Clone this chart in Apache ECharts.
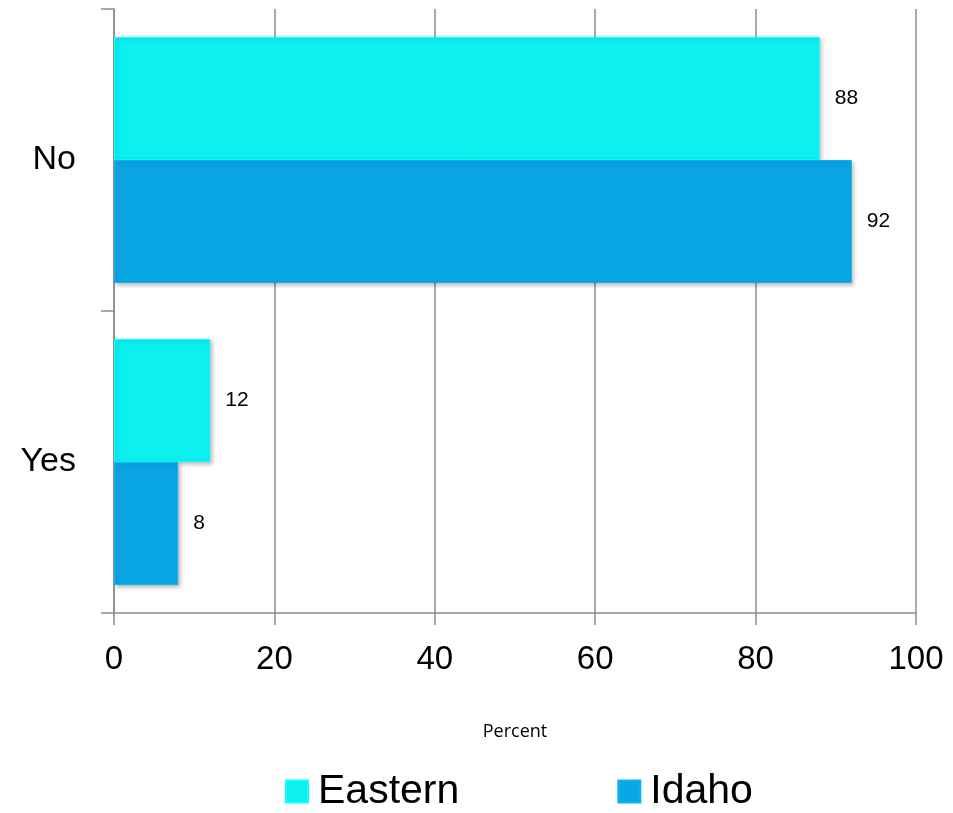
<!DOCTYPE html>
<html><head><meta charset="utf-8">
<script src="https://cdn.jsdelivr.net/npm/echarts@6/dist/echarts.min.js"></script>
<style>html,body{margin:0;padding:0;background:#fff}#c{width:953px;height:813px}</style>
</head><body><div id="c"></div>
<script>
const categories = ['No', 'Yes'];
const seriesNames = ['Eastern', 'Idaho'];
const easternValues = [88, 12];
const idahoValues = [92, 8];
const xTicks = [0, 20, 40, 60, 80, 100];
const colors = ['#0DF0F0', '#0AA6E4'];

const chart = echarts.init(document.getElementById('c'));
const mkSeries = (name, data, color) => ({
  name, type: 'bar', data,
  barGap: '0%', barCategoryGap: '18.5%',
  itemStyle: { color, borderColor: echarts.color.lift(color, -0.08), borderWidth: 1,
    shadowColor: 'rgba(0,0,0,0.25)', shadowBlur: 4, shadowOffsetX: 2, shadowOffsetY: 2 },
  label: { show: true, position: 'right', distance: 15, color: '#000', fontSize: 21,
    fontFamily: 'Liberation Sans' }
});
chart.setOption({
  animation: false,
  grid: { left: 114, right: 37, top: 9, bottom: 200 },
  legend: {
    bottom: -4, left: 280, itemGap: 158, itemWidth: 22, itemHeight: 22,
    icon: 'rect',
    textStyle: { fontSize: 41, fontFamily: 'Liberation Sans', color: '#000', padding: [0, 0, 0, 5] },
    data: seriesNames
  },
  xAxis: {
    type: 'value', min: xTicks[0], max: xTicks[xTicks.length - 1], interval: 20,
    name: 'Percent', nameLocation: 'middle', nameGap: 110,
    nameTextStyle: { fontSize: 18, fontFamily: 'Open Sans', color: '#000' },
    axisLine: { show: true, lineStyle: { color: '#8c8c8c', width: 1.5 } },
    axisTick: { show: true, length: 12, lineStyle: { color: '#8c8c8c', width: 1.5 } },
    splitLine: { show: true, lineStyle: { color: '#8c8c8c', width: 1.5 } },
    axisLabel: { fontSize: 33, fontFamily: 'Liberation Sans', color: '#000', margin: 30 }
  },
  yAxis: {
    type: 'category', data: categories, inverse: true,
    axisLine: { show: true, lineStyle: { color: '#8c8c8c', width: 1.5 } },
    axisTick: { show: true, length: 13, lineStyle: { color: '#8c8c8c', width: 1.5 } },
    axisLabel: { fontSize: 34, fontFamily: 'Liberation Sans', color: '#000', margin: 38 }
  },
  series: [
    mkSeries(seriesNames[0], easternValues, colors[0]),
    mkSeries(seriesNames[1], idahoValues, colors[1])
  ]
});
</script></body></html>
